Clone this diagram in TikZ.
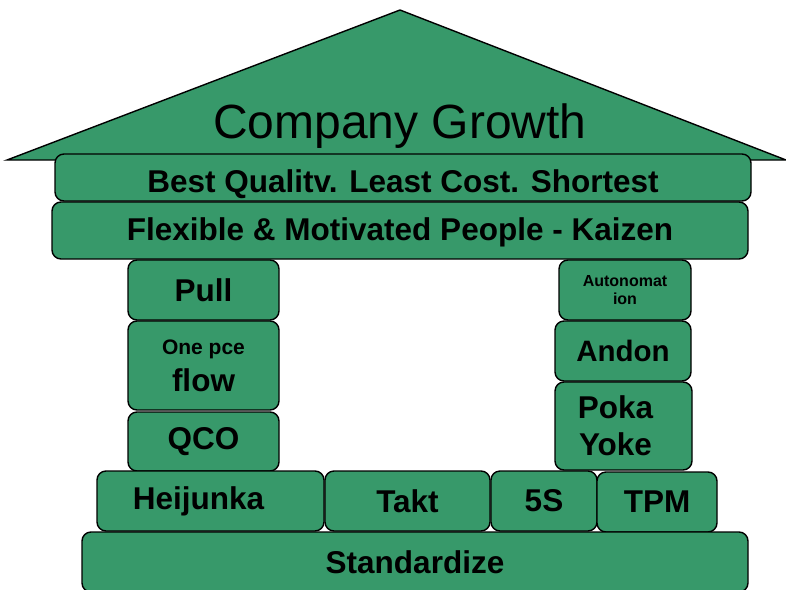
\documentclass[tikz,border=0pt]{standalone}
\usepackage{fontspec}
\setmainfont{Liberation Sans}
\usepackage{tikz}
\usetikzlibrary{arrows,shapes}
\definecolor{housegreen}{RGB}{55,153,106}
\tikzstyle{roof}=[draw=black,line width=1.4pt,fill=housegreen,line join=miter]
\tikzstyle{block}=[draw=black,line width=1.4pt,fill=housegreen,rounded corners=9pt,inner sep=0pt,align=center,font=\bfseries\fontsize{31.5}{37}\selectfont]
\tikzstyle{tiny}=[font=\bfseries\fontsize{16}{18}\selectfont]
\newcommand{\blk}[6][]{\node[block,minimum width=#4pt,minimum height=#5pt,#1] (#2) at #3 {#6};}

\begin{document}
\begin{tikzpicture}[x=1pt,y=-1pt]
    \useasboundingbox (0,0) rectangle (786,589);
    \draw[roof] (7,160) -- (400,10) -- (786,160) -- cycle;
    \node[font=\fontsize{48}{50}\selectfont] (growth) at (400,126) {Company Growth};
    \blk[text height=30pt,text depth=0pt]{quality}{(403,177.5)}{696}{47}{Best Qualitv. Least Cost. Shortest}
    \blk[text height=25pt,text depth=5pt]{people}{(400,230.5)}{696}{57}{Flexible \& Motivated People - Kaizen}
    % left pillar
    \foreach \name/\pos/\h/\txt in {pull/{(203.5,290)}/60/Pull, qco/{(203.5,441.5)}/59/QCO}
        {\blk{\name}{\pos}{151}{\h}{\txt}}
    \blk{onepiece}{(203.5,365.5)}{151}{89}{\fontsize{21}{31}\selectfont One pce\\\fontsize{31.5}{37}\selectfont flow}
    % right pillar
    \blk[tiny]{autonomation}{(625,290)}{132}{60}{Autonomat\\ion}
    \blk[font=\bfseries\fontsize{29.5}{37}\selectfont]{andon}{(623,351)}{136}{60}{Andon}
    \blk{pokayoke}{(623.5,426)}{137}{88}{Poka\hspace*{16pt}\\Yoke\hspace*{16pt}}
    % foundation
    \foreach \name/\pos/\w/\txt in {heijunka/{(210.5,501)}/227/Heijunka\hspace*{24pt}, takt/{(407.5,501)}/165/Takt,
                                    fives/{(544,501)}/106/5S, tpm/{(657,502)}/120/TPM}
        {\blk{\name}{\pos}{\w}{60}{\txt}}
    \blk{standardize}{(415,562)}{666}{60}{Standardize}
\end{tikzpicture}
\end{document}
